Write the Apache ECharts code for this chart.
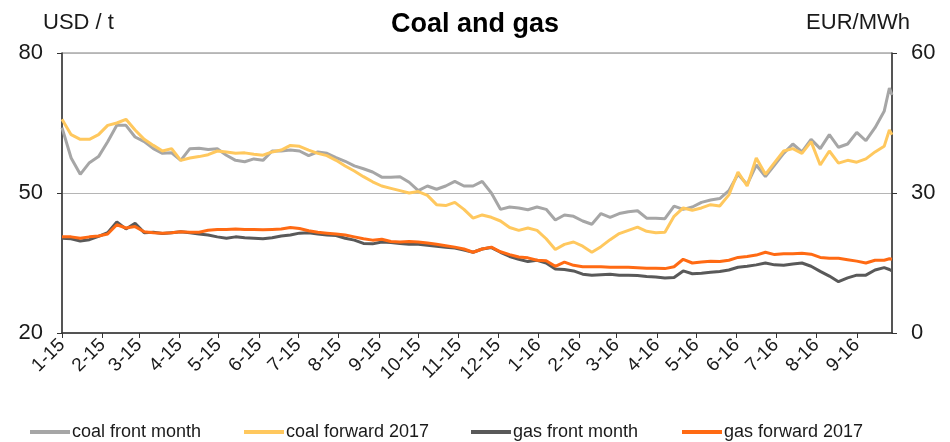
<!DOCTYPE html>
<html><head><meta charset="utf-8">
<script src="https://cdn.jsdelivr.net/npm/echarts@6.0.0/dist/echarts.min.js"></script>
<style>html,body{margin:0;padding:0;background:#fff}#c{width:950px;height:442px}</style>
</head><body><div id="c"></div>
<script>
// ---- data ----
const startDate = '2015-01-01';
const endDate = '2016-09-28';
const titleText = 'Coal and gas';
const leftUnit = 'USD / t';
const rightUnit = 'EUR/MWh';
const leftTicks = [20, 50, 80];
const rightTicks = [0, 30, 60];
const seriesNames = ['coal front month', 'coal forward 2017', 'gas front month', 'gas forward 2017'];

// observation days (days since startDate), roughly weekly
const obsDays = [];
for (let d = 0; d <= 630; d += 7) obsDays.push(d);
obsDays.push(634, 636);

const coalFront = [
  64, 57.5, 54, 56.5, 57.8, 61, 64.5, 64.5, 62, 61,
  59.5, 58.5, 58.6, 57, 59.5, 59.6, 59.3, 59.5, 58.1, 57,
  56.7, 57.3, 57, 59, 59, 59.2, 59, 58, 58.8, 58.5,
  57.6, 56.8, 55.8, 55.2, 54.5, 53.4, 53.4, 53.5, 52.3, 50.5,
  51.5, 50.8, 51.5, 52.5, 51.5, 51.5, 52.5, 50, 46.5, 47,
  46.8, 46.4, 47, 46.5, 44.2, 45.3, 45, 44, 43.3, 45.6,
  44.8, 45.6, 46, 46.2, 44.6, 44.6, 44.5, 47.2, 46.5, 47,
  48, 48.5, 48.8, 50.5, 54, 51.8, 56, 53.5, 56, 58.5,
  60.5, 58.8, 61.5, 59.5, 62.5, 59.8, 60.5, 63, 61.2, 64,
  67.5, 72.5, 71
];
const coalFwd = [
  65.8, 62.5, 61.5, 61.5, 62.5, 64.5, 65, 65.8, 63.5, 61.5,
  60.2, 59, 59.5, 57, 57.5, 57.8, 58.2, 59, 58.8, 58.5,
  58.6, 58.3, 58.1, 58.8, 59.2, 60.2, 60, 59.2, 58.5, 58,
  57, 55.8, 54.7, 53.5, 52.4, 51.5, 51, 50.5, 50, 50.3,
  49.5, 47.5, 47.3, 48, 46.5, 44.6, 45.3, 44.8, 44, 42.6,
  42, 42.5, 42, 40.2, 37.9, 39, 39.5, 38.6, 37.3, 38.5,
  40, 41.3, 42, 42.7, 41.8, 41.5, 41.6, 45, 46.8, 46.3,
  46.8, 47.5, 47.2, 49.6, 54.5, 51.5, 57.5, 54, 56.5, 59,
  59.5, 58.5, 61, 56, 59, 56.4, 57, 56.6, 57.3, 58.8,
  60, 63.5, 62.5
];
const gasFront = [
  20.3, 20.2, 19.7, 20, 20.7, 21.5, 23.8, 22.3, 23.5, 21.5,
  21.6, 21.3, 21.5, 21.7, 21.5, 21.2, 21, 20.6, 20.3, 20.6,
  20.4, 20.3, 20.2, 20.4, 20.8, 21, 21.4, 21.5, 21.2, 21,
  20.9, 20.3, 19.9, 19.2, 19.1, 19.5, 19.4, 19.2, 19, 19,
  18.8, 18.6, 18.4, 18.2, 17.8, 17.3, 18, 18.3, 17.3, 16.4,
  15.8, 15.3, 15.6, 15, 13.7, 13.6, 13.3, 12.6, 12.4, 12.5,
  12.6, 12.4, 12.4, 12.3, 12.1, 12, 11.8, 11.9, 13.3, 12.7,
  12.8, 13, 13.2, 13.5, 14.1, 14.3, 14.6, 15, 14.6, 14.5,
  14.8, 15, 14.3, 13.2, 12.2, 11, 11.8, 12.4, 12.4, 13.5,
  14, 13.6, 13.3
];
const gasFwd = [
  20.6, 20.6, 20.3, 20.6, 20.8, 21.2, 23.2, 22.5, 22.8, 21.7,
  21.5, 21.4, 21.5, 21.7, 21.6, 21.6, 22, 22.2, 22.2, 22.3,
  22.2, 22.2, 22.1, 22.2, 22.3, 22.6, 22.4, 21.9, 21.6, 21.4,
  21.2, 21, 20.6, 20.2, 19.9, 20.1, 19.6, 19.5, 19.6, 19.5,
  19.3, 19, 18.7, 18.4, 18, 17.3, 18, 18.4, 17.4, 16.8,
  16.3, 16.1, 15.6, 15.5, 14.3, 15.2, 14.5, 14.2, 14.2, 14.2,
  14.1, 14.1, 14.1, 14, 13.9, 13.9, 13.8, 14.2, 15.8, 15,
  15.2, 15.4, 15.3, 15.6, 16.2, 16.4, 16.7, 17.3, 16.8, 17,
  17, 17.1, 16.9, 16.2, 16, 16, 15.7, 15.4, 15, 15.6,
  15.6, 15.9, 15.8
];

// ---- build daily category axis ----
const categories = [];
{
  const s = Date.parse(startDate + 'T00:00:00Z'), e = Date.parse(endDate + 'T00:00:00Z');
  for (let t = s; t <= e; t += 86400000) categories.push(new Date(t).toISOString().slice(0, 10));
}
const isMonthStart = (i, v) => v.slice(8, 10) === '01';
const fmtMonth = v => (+v.slice(5, 7)) + '-' + v.slice(2, 4);
const pairs = arr => obsDays.map((d, i) => [d, arr[i]]);

const FONT = "'Liberation Sans', Arial, sans-serif";
const colors = ['#A6A6A6', '#FFC85E', '#595959', '#FF6A13'];
const legendLefts = [25, 239, 466, 677];

const chart = echarts.init(document.getElementById('c'), null, {renderer: 'canvas'});
chart.setOption({
  animation: false,
  textStyle: {fontFamily: FONT},
  title: {text: titleText, left: 'center', top: 6,
    textStyle: {fontFamily: FONT, fontSize: 27, fontWeight: 'bold', color: '#000'}},
  graphic: [
    {type: 'text', left: 43, top: 12, style: {text: leftUnit, font: "22px 'Liberation Sans', Arial", fill: '#1a1a1a'}},
    {type: 'text', right: 40, top: 12, style: {text: rightUnit, font: "22px 'Liberation Sans', Arial", fill: '#1a1a1a'}}
  ],
  legend: seriesNames.map((n, i) => ({
    data: [n], left: legendLefts[i], top: 418, icon: 'rect', itemWidth: 40, itemHeight: 4, itemGap: 0,
    textStyle: {fontFamily: FONT, fontSize: 18, color: '#1a1a1a', padding: [0, 0, 0, -3]}, selectedMode: false
  })),
  grid: {left: 62, right: 58, top: 53, bottom: 109, show: true, borderColor: '#7f7f7f', borderWidth: 1},
  xAxis: {
    type: 'category', data: categories, boundaryGap: false,
    axisLine: {lineStyle: {color: '#333', width: 1.5}},
    axisTick: {interval: isMonthStart, length: 5, lineStyle: {color: '#333'}},
    axisLabel: {interval: isMonthStart, rotate: 45, margin: 9, fontSize: 19, color: '#1a1a1a',
      fontFamily: FONT, formatter: fmtMonth},
    splitLine: {show: false}
  },
  yAxis: [
    {type: 'value', min: leftTicks[0], max: leftTicks[2], interval: leftTicks[1] - leftTicks[0],
      axisLine: {show: true, lineStyle: {color: '#333', width: 1.5}},
      axisTick: {show: true, length: 5, lineStyle: {color: '#333'}},
      axisLabel: {fontSize: 22, color: '#1a1a1a', margin: 19, fontFamily: FONT},
      splitLine: {show: true, lineStyle: {color: '#b5b5b5', width: 1}}},
    {type: 'value', min: rightTicks[0], max: rightTicks[2], interval: rightTicks[1] - rightTicks[0],
      axisLine: {show: true, lineStyle: {color: '#333', width: 1.5}},
      axisTick: {show: true, length: 5, lineStyle: {color: '#333'}},
      axisLabel: {fontSize: 22, color: '#1a1a1a', margin: 19, fontFamily: FONT},
      splitLine: {show: false}}
  ],
  series: [
    {name: seriesNames[0], type: 'line', yAxisIndex: 0, data: pairs(coalFront)},
    {name: seriesNames[1], type: 'line', yAxisIndex: 0, data: pairs(coalFwd)},
    {name: seriesNames[2], type: 'line', yAxisIndex: 1, data: pairs(gasFront)},
    {name: seriesNames[3], type: 'line', yAxisIndex: 1, data: pairs(gasFwd)}
  ].map((s, i) => Object.assign(s, {
    showSymbol: false, symbol: 'none', color: colors[i],
    lineStyle: {color: colors[i], width: 3}, itemStyle: {color: colors[i]}
  }))
});
</script>
</body></html>
